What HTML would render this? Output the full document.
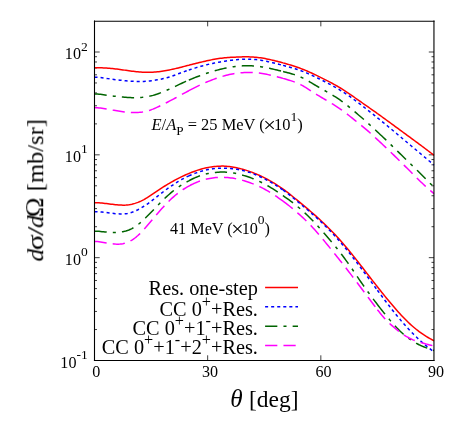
<!DOCTYPE html>
<html><head><meta charset="utf-8"><title>plot</title>
<style>
html,body{margin:0;padding:0;background:#fff;}
body{width:455px;height:422px;overflow:hidden;}
svg{display:block;position:absolute;left:0;top:0;}
text{font-family:"Liberation Serif",serif;fill:#000;}
.i{font-style:italic;}
.c{fill:none;stroke-width:1.5;stroke-linecap:butt;stroke-linejoin:round;}
.t{stroke:#000;stroke-width:0.75;fill:none;}
</style></head><body>
<svg width="455" height="422" viewBox="0 0 455 422">
<rect x="0" y="0" width="455" height="422" fill="#fff"/>
<path class="t" d="M94.50 329.54h2.50M434.00 329.54h-2.50M94.50 311.44h2.50M434.00 311.44h-2.50M94.50 298.59h2.50M434.00 298.59h-2.50M94.50 288.62h2.50M434.00 288.62h-2.50M94.50 280.48h2.50M434.00 280.48h-2.50M94.50 273.60h2.50M434.00 273.60h-2.50M94.50 267.63h2.50M434.00 267.63h-2.50M94.50 262.37h2.50M434.00 262.37h-2.50M94.50 257.67h5.20M434.00 257.67h-5.20M94.50 226.71h2.50M434.00 226.71h-2.50M94.50 208.60h2.50M434.00 208.60h-2.50M94.50 195.75h2.50M434.00 195.75h-2.50M94.50 185.79h2.50M434.00 185.79h-2.50M94.50 177.65h2.50M434.00 177.65h-2.50M94.50 170.76h2.50M434.00 170.76h-2.50M94.50 164.80h2.50M434.00 164.80h-2.50M94.50 159.54h2.50M434.00 159.54h-2.50M94.50 154.83h5.20M434.00 154.83h-5.20M94.50 123.88h2.50M434.00 123.88h-2.50M94.50 105.77h2.50M434.00 105.77h-2.50M94.50 92.92h2.50M434.00 92.92h-2.50M94.50 82.96h2.50M434.00 82.96h-2.50M94.50 74.81h2.50M434.00 74.81h-2.50M94.50 67.93h2.50M434.00 67.93h-2.50M94.50 61.97h2.50M434.00 61.97h-2.50M94.50 56.71h2.50M434.00 56.71h-2.50M94.50 52.00h5.20M434.00 52.00h-5.20M207.67 360.50v-5.20M207.67 21.15v5.20M320.83 360.50v-5.20M320.83 21.15v5.20"/>
<clipPath id="cp"><rect x="94.50" y="21.15" width="340.00" height="339.35"/></clipPath>
<g clip-path="url(#cp)">
<path class="c" stroke="#ff0000" d="M94.5 67.7l1.5-0.03l1.49 0.02l1.5 0.03l1.5 0.05l1.49 0.05l1.5 0.07l1.5 0.09l1.5 0.09l1.49 0.11l1.5 0.12l1.5 0.14l1.49 0.15l1.5 0.16l1.5 0.17l1.49 0.18l1.5 0.2l1.5 0.19l1.49 0.21l1.5 0.21l1.5 0.21l1.5 0.22l1.49 0.21l1.5 0.21l1.5 0.2l1.49 0.2l1.5 0.19l1.5 0.17l1.49 0.17l1.5 0.15l1.5 0.14l1.49 0.12l1.5 0.09l1.5 0.08l1.5 0.05l1.49 0.03l1.5 0l1.5-0.03l1.49-0.05l1.5-0.08l1.5-0.1l1.49-0.12l1.5-0.15l1.5-0.17l1.49-0.19l1.5-0.21l1.5-0.24l1.49-0.25l1.5-0.26l1.5-0.28l1.5-0.29l1.49-0.31l1.5-0.31l1.5-0.33l1.49-0.34l1.5-0.36l1.5-0.36l1.49-0.38l1.5-0.38l1.5-0.39l1.49-0.39l1.5-0.39l1.5-0.39l1.5-0.39M188.8 65.2l1.5-0.38l1.5-0.38l1.5-0.38l1.49-0.38l1.5-0.38l1.5-0.36l1.49-0.37l1.5-0.36l1.5-0.35l1.49-0.35l1.5-0.34l1.5-0.33l1.5-0.33l1.49-0.31l1.5-0.31l1.5-0.29l1.49-0.28l1.5-0.27l1.5-0.25l1.49-0.23l1.5-0.21l1.5-0.19l1.49-0.18l1.5-0.15l1.5-0.14l1.5-0.12l1.49-0.11l1.5-0.1l1.5-0.09l1.49-0.08l1.5-0.07l1.5-0.07l1.49-0.07l1.5-0.06l1.5-0.05l1.49-0.03l1.5-0.03l1.5 0l1.5 0.01l1.49 0.03l1.5 0.05l1.5 0.06l1.49 0.09l1.5 0.11l1.5 0.13l1.49 0.16l1.5 0.18l1.5 0.21l1.49 0.23l1.5 0.25l1.5 0.28l1.5 0.29l1.49 0.31l1.5 0.32l1.5 0.33l1.49 0.35l1.5 0.35l1.5 0.37l1.49 0.37l1.5 0.39l1.5 0.39l1.49 0.4l1.5 0.4M283.1 62.9l1.51 0.4l1.49 0.43l1.5 0.43l1.5 0.45l1.5 0.45l1.49 0.47l1.5 0.48l1.5 0.49l1.49 0.5l1.5 0.52l1.5 0.54l1.49 0.56l1.5 0.58l1.5 0.59l1.49 0.62l1.5 0.64l1.5 0.65l1.5 0.66l1.49 0.68l1.5 0.7l1.5 0.7l1.49 0.71l1.5 0.72l1.5 0.74l1.49 0.74l1.5 0.74l1.5 0.75l1.49 0.76l1.5 0.76l1.5 0.76l1.5 0.77l1.49 0.79l1.5 0.79l1.5 0.82l1.49 0.83l1.5 0.86l1.5 0.87l1.49 0.9l1.5 0.93l1.5 0.94l1.49 0.97l1.5 0.98l1.5 1.01l1.5 1.01l1.49 1.04l1.5 1.04l1.5 1.04l1.49 1.05l1.5 1.05l1.5 1.05l1.49 1.05l1.5 1.05l1.5 1.05l1.49 1.05l1.5 1.05l1.5 1.04l1.5 1.05l1.49 1.05l1.5 1.06l1.5 1.05l1.49 1.06l1.5 1.06l1.5 1.07M377.4 113.5l1.51 1.12l1.48 1.06l1.49 1.08l1.49 1.07l1.49 1.08l1.49 1.08l1.49 1.09l1.49 1.08l1.49 1.09l1.49 1.09l1.49 1.09l1.49 1.09l1.48 1.1l1.49 1.1l1.49 1.1l1.49 1.09l1.49 1.1l1.49 1.1l1.49 1.09l1.49 1.1l1.49 1.09l1.49 1.09l1.48 1.09l1.49 1.09l1.49 1.09l1.49 1.1l1.49 1.09l1.49 1.1l1.49 1.11l1.49 1.11l1.49 1.11l1.49 1.12l1.48 1.12l1.49 1.13l1.49 1.14l1.49 1.14l1.49 1.14l1.49 1.14"/>
<path class="c" stroke="#0000ff" stroke-dasharray="3.03 3.03" d="M94.5 77.2l1.5 0.05l1.49 0.07l1.5 0.12l1.5 0.15l1.49 0.18l1.5 0.2l1.5 0.21l1.5 0.23l1.49 0.22l1.5 0.22l1.5 0.21l1.49 0.2l1.5 0.2l1.5 0.18l1.49 0.18l1.5 0.17l1.5 0.17l1.49 0.16l1.5 0.15l1.5 0.15l1.5 0.14l1.49 0.13l1.5 0.13l1.5 0.11l1.49 0.1l1.5 0.09l1.5 0.07l1.49 0.06l1.5 0.03l1.5 0.02l1.49-0.01l1.5-0.04l1.5-0.06l1.5-0.09l1.49-0.11l1.5-0.14l1.5-0.16l1.49-0.18l1.5-0.2l1.5-0.22l1.49-0.24l1.5-0.26l1.5-0.27l1.49-0.29l1.5-0.32l1.5-0.33l1.49-0.36l1.5-0.38l1.5-0.42l1.5-0.45l1.49-0.48l1.5-0.5l1.5-0.53l1.49-0.55l1.5-0.55l1.5-0.56l1.49-0.56l1.5-0.56l1.5-0.54l1.49-0.54l1.5-0.52l1.5-0.52l1.5-0.51M188.8 70.1l1.5-0.54l1.5-0.49l1.5-0.49l1.49-0.47l1.5-0.46l1.5-0.46l1.49-0.44l1.5-0.43l1.5-0.41l1.49-0.4l1.5-0.39l1.5-0.37l1.5-0.36l1.49-0.34l1.5-0.33l1.5-0.32l1.49-0.31l1.5-0.3l1.5-0.29l1.49-0.27l1.5-0.27l1.5-0.26l1.49-0.25l1.5-0.25l1.5-0.23l1.5-0.21l1.49-0.21l1.5-0.2l1.5-0.19l1.49-0.17l1.5-0.17l1.5-0.15l1.49-0.14l1.5-0.12l1.5-0.1l1.49-0.08l1.5-0.06l1.5-0.03l1.5 0l1.49 0.01l1.5 0.05l1.5 0.06l1.49 0.09l1.5 0.11l1.5 0.14l1.49 0.16l1.5 0.2l1.5 0.22l1.49 0.25l1.5 0.27l1.5 0.3l1.5 0.32l1.49 0.33l1.5 0.35l1.5 0.36l1.49 0.37l1.5 0.37l1.5 0.38l1.49 0.38l1.5 0.38l1.5 0.39l1.49 0.39l1.5 0.39M283.1 65.4l1.51 0.4l1.49 0.39l1.5 0.4l1.5 0.41l1.5 0.41l1.49 0.43l1.5 0.44l1.5 0.45l1.49 0.47l1.5 0.5l1.5 0.52l1.49 0.54l1.5 0.57l1.5 0.59l1.49 0.62l1.5 0.64l1.5 0.66l1.5 0.67l1.49 0.68l1.5 0.69l1.5 0.7l1.49 0.71l1.5 0.71l1.5 0.72l1.49 0.74l1.5 0.74l1.5 0.76l1.49 0.77l1.5 0.77l1.5 0.79l1.5 0.79l1.49 0.81l1.5 0.82l1.5 0.83l1.49 0.85l1.5 0.86l1.5 0.88l1.49 0.91l1.5 0.93l1.5 0.94l1.49 0.98l1.5 0.99l1.5 1.02l1.5 1.03l1.49 1.05l1.5 1.08l1.5 1.08l1.49 1.11l1.5 1.11l1.5 1.13l1.49 1.14l1.5 1.15l1.5 1.15l1.49 1.17l1.5 1.16l1.5 1.18l1.5 1.17l1.49 1.18l1.5 1.19l1.5 1.19l1.49 1.19l1.5 1.2l1.5 1.2M377.4 117.8l1.51 1.16l1.48 1.21l1.49 1.21l1.49 1.21l1.49 1.22l1.49 1.22l1.49 1.23l1.49 1.23l1.49 1.24l1.49 1.24l1.49 1.25l1.49 1.25l1.48 1.25l1.49 1.26l1.49 1.26l1.49 1.26l1.49 1.25l1.49 1.26l1.49 1.25l1.49 1.25l1.49 1.24l1.49 1.25l1.48 1.24l1.49 1.24l1.49 1.24l1.49 1.24l1.49 1.25l1.49 1.24l1.49 1.25l1.49 1.25l1.49 1.26l1.49 1.25l1.48 1.26l1.49 1.25l1.49 1.26l1.49 1.26l1.49 1.25l1.49 1.26"/>
<path class="c" stroke="#006400" stroke-dasharray="12.24 6.12 3.06 6.12" d="M94.5 94.0l1.5 0.02l1.49 0.08l1.5 0.12l1.5 0.15l1.49 0.18l1.5 0.2l1.5 0.21l1.5 0.2l1.49 0.21l1.5 0.2l1.5 0.2l1.49 0.19l1.5 0.18l1.5 0.18l1.49 0.17l1.5 0.16l1.5 0.15l1.49 0.15l1.5 0.14l1.5 0.12l1.5 0.12l1.49 0.1l1.5 0.08l1.5 0.07l1.49 0.05l1.5 0.02l1.5 0.01l1.49-0.03l1.5-0.04l1.5-0.08l1.49-0.11l1.5-0.13l1.5-0.17l1.5-0.2l1.49-0.23l1.5-0.27l1.5-0.3l1.49-0.35l1.5-0.39l1.5-0.43l1.49-0.47l1.5-0.5l1.5-0.54l1.49-0.56l1.5-0.58l1.5-0.6l1.49-0.62l1.5-0.63l1.5-0.64l1.5-0.66l1.49-0.68l1.5-0.69l1.5-0.71l1.49-0.72l1.5-0.72l1.5-0.72l1.49-0.72l1.5-0.7l1.5-0.7l1.49-0.68l1.5-0.67l1.5-0.65l1.5-0.64M188.8 80.1l1.5-0.61l1.5-0.62l1.5-0.61l1.49-0.6l1.5-0.59l1.5-0.57l1.49-0.57l1.5-0.56l1.5-0.54l1.49-0.53l1.5-0.51l1.5-0.5l1.5-0.49l1.49-0.48l1.5-0.46l1.5-0.45l1.49-0.44l1.5-0.43l1.5-0.41l1.49-0.4l1.5-0.39l1.5-0.37l1.49-0.36l1.5-0.34l1.5-0.31l1.5-0.3l1.49-0.28l1.5-0.26l1.5-0.24l1.49-0.22l1.5-0.2l1.5-0.17l1.49-0.16l1.5-0.12l1.5-0.1l1.49-0.07l1.5-0.05l1.5-0.02l1.5 0l1.49 0.02l1.5 0.03l1.5 0.05l1.49 0.07l1.5 0.1l1.5 0.11l1.49 0.15l1.5 0.17l1.5 0.2l1.49 0.22l1.5 0.25l1.5 0.28l1.5 0.29l1.49 0.31l1.5 0.32l1.5 0.34l1.49 0.34l1.5 0.35l1.5 0.36l1.49 0.36l1.5 0.37l1.5 0.36l1.49 0.37l1.5 0.37M283.1 71.6l1.51 0.33l1.49 0.38l1.5 0.39l1.5 0.39l1.5 0.41l1.49 0.43l1.5 0.45l1.5 0.48l1.49 0.52l1.5 0.56l1.5 0.61l1.49 0.65l1.5 0.7l1.5 0.76l1.49 0.8l1.5 0.84l1.5 0.86l1.5 0.89l1.49 0.9l1.5 0.89l1.5 0.89l1.49 0.89l1.5 0.87l1.5 0.86l1.49 0.86l1.5 0.85l1.5 0.85l1.49 0.85l1.5 0.85l1.5 0.86l1.5 0.87l1.49 0.88l1.5 0.9l1.5 0.91l1.49 0.94l1.5 0.97l1.5 1l1.49 1.03l1.5 1.07l1.5 1.11l1.49 1.14l1.5 1.17l1.5 1.21l1.5 1.22l1.49 1.25l1.5 1.25l1.5 1.26l1.49 1.27l1.5 1.27l1.5 1.27l1.49 1.27l1.5 1.28l1.5 1.29l1.49 1.3l1.5 1.31l1.5 1.33l1.5 1.34l1.49 1.36l1.5 1.37l1.5 1.38l1.49 1.39l1.5 1.39l1.5 1.4M377.4 131.9l1.51 1.37l1.48 1.4l1.49 1.41l1.49 1.41l1.49 1.42l1.49 1.42l1.49 1.44l1.49 1.43l1.49 1.44l1.49 1.45l1.49 1.45l1.49 1.45l1.48 1.45l1.49 1.46l1.49 1.46l1.49 1.45l1.49 1.46l1.49 1.45l1.49 1.45l1.49 1.45l1.49 1.45l1.49 1.45l1.48 1.45l1.49 1.45l1.49 1.46l1.49 1.46l1.49 1.46l1.49 1.47l1.49 1.48l1.49 1.47l1.49 1.49l1.49 1.49l1.48 1.49l1.49 1.5l1.49 1.5l1.49 1.5l1.49 1.5l1.49 1.51"/>
<path class="c" stroke="#ff00ff" stroke-dasharray="12.24 6.12" d="M94.5 107.6l1.5 0.05l1.49 0.09l1.5 0.16l1.5 0.19l1.49 0.23l1.5 0.25l1.5 0.26l1.5 0.26l1.49 0.26l1.5 0.25l1.5 0.25l1.49 0.25l1.5 0.24l1.5 0.24l1.49 0.24l1.5 0.24l1.5 0.22l1.49 0.22l1.5 0.21l1.5 0.19l1.5 0.18l1.49 0.15l1.5 0.13l1.5 0.11l1.49 0.07l1.5 0.05l1.5 0l1.49-0.03l1.5-0.08l1.5-0.12l1.49-0.17l1.5-0.21l1.5-0.26l1.5-0.31l1.49-0.36l1.5-0.41l1.5-0.46l1.49-0.51l1.5-0.56l1.5-0.6l1.49-0.65l1.5-0.69l1.5-0.71l1.49-0.73l1.5-0.75l1.5-0.75l1.49-0.75l1.5-0.76l1.5-0.76l1.5-0.77l1.49-0.78l1.5-0.79l1.5-0.81l1.49-0.81l1.5-0.82l1.5-0.82l1.49-0.82l1.5-0.82l1.5-0.81l1.49-0.81l1.5-0.8l1.5-0.79l1.5-0.79M188.8 90.7l1.5-0.76l1.5-0.78l1.5-0.77l1.49-0.76l1.5-0.75l1.5-0.73l1.49-0.73l1.5-0.71l1.5-0.69l1.49-0.67l1.5-0.66l1.5-0.64l1.5-0.62l1.49-0.6l1.5-0.59l1.5-0.57l1.49-0.55l1.5-0.54l1.5-0.52l1.49-0.51l1.5-0.49l1.5-0.47l1.49-0.45l1.5-0.42l1.5-0.4l1.5-0.38l1.49-0.35l1.5-0.32l1.5-0.29l1.49-0.27l1.5-0.25l1.5-0.22l1.49-0.19l1.5-0.16l1.5-0.14l1.49-0.12l1.5-0.08l1.5-0.06l1.5-0.04l1.49-0.02l1.5 0l1.5 0.02l1.49 0.05l1.5 0.07l1.5 0.11l1.49 0.14l1.5 0.17l1.5 0.2l1.49 0.24l1.5 0.26l1.5 0.29l1.5 0.31l1.49 0.32l1.5 0.33l1.5 0.35l1.49 0.36l1.5 0.36l1.5 0.38l1.49 0.38l1.5 0.4l1.5 0.4l1.49 0.41l1.5 0.41M283.1 78.4l1.51 0.42l1.49 0.43l1.5 0.45l1.5 0.46l1.5 0.47l1.49 0.5l1.5 0.53l1.5 0.56l1.49 0.59l1.5 0.64l1.5 0.69l1.49 0.74l1.5 0.79l1.5 0.85l1.49 0.89l1.5 0.93l1.5 0.95l1.5 0.98l1.49 0.97l1.5 0.97l1.5 0.96l1.49 0.94l1.5 0.93l1.5 0.91l1.49 0.9l1.5 0.89l1.5 0.88l1.49 0.88l1.5 0.88l1.5 0.89l1.5 0.89l1.49 0.9l1.5 0.91l1.5 0.93l1.49 0.94l1.5 0.97l1.5 1l1.49 1.02l1.5 1.05l1.5 1.08l1.49 1.11l1.5 1.13l1.5 1.16l1.5 1.17l1.49 1.19l1.5 1.19l1.5 1.2l1.49 1.2l1.5 1.2l1.5 1.19l1.49 1.21l1.5 1.21l1.5 1.22l1.49 1.24l1.5 1.26l1.5 1.28l1.5 1.3l1.49 1.33l1.5 1.34l1.5 1.35l1.49 1.37l1.5 1.38l1.5 1.39M377.4 139.6l1.51 1.37l1.48 1.4l1.49 1.4l1.49 1.41l1.49 1.41l1.49 1.42l1.49 1.42l1.49 1.43l1.49 1.42l1.49 1.44l1.49 1.44l1.49 1.44l1.48 1.45l1.49 1.45l1.49 1.46l1.49 1.46l1.49 1.47l1.49 1.48l1.49 1.48l1.49 1.49l1.49 1.49l1.49 1.5l1.48 1.5l1.49 1.5l1.49 1.5l1.49 1.48l1.49 1.48l1.49 1.45l1.49 1.43l1.49 1.41l1.49 1.39l1.49 1.36l1.48 1.34l1.49 1.32l1.49 1.31l1.49 1.31l1.49 1.29l1.49 1.3"/>
<path class="c" stroke="#ff0000" d="M94.5 202.7l1.5 0.03l1.49 0.05l1.5 0.08l1.5 0.1l1.49 0.13l1.5 0.15l1.5 0.17l1.5 0.18l1.49 0.19l1.5 0.2l1.5 0.19l1.49 0.19l1.5 0.18l1.5 0.16l1.49 0.15l1.5 0.12l1.5 0.09l1.49 0.06l1.5 0.03l1.5-0.02l1.5-0.07l1.49-0.12l1.5-0.19l1.5-0.24l1.49-0.31l1.5-0.37l1.5-0.44l1.49-0.49l1.5-0.56l1.5-0.61l1.49-0.67l1.5-0.73l1.5-0.78l1.5-0.83l1.49-0.87l1.5-0.92l1.5-0.96l1.49-0.98l1.5-1.01l1.5-1.03l1.49-1.02l1.5-1.03l1.5-1.01l1.49-1l1.5-0.99l1.5-0.96l1.49-0.94l1.5-0.93l1.5-0.9l1.5-0.89l1.49-0.87l1.5-0.84l1.5-0.84l1.49-0.81l1.5-0.79l1.5-0.78l1.49-0.76l1.5-0.73l1.5-0.72l1.49-0.69l1.5-0.68l1.5-0.65l1.5-0.63M188.8 173.5l1.5-0.61l1.5-0.59l1.5-0.57l1.49-0.55l1.5-0.53l1.5-0.5l1.49-0.48l1.5-0.45l1.5-0.43l1.49-0.4l1.5-0.36l1.5-0.33l1.5-0.3l1.49-0.27l1.5-0.24l1.5-0.2l1.49-0.17l1.5-0.14l1.5-0.12l1.49-0.08l1.5-0.05l1.5-0.02l1.49 0.01l1.5 0.05l1.5 0.09l1.5 0.12l1.49 0.16l1.5 0.2l1.5 0.22l1.49 0.26l1.5 0.28l1.5 0.31l1.49 0.34l1.5 0.35l1.5 0.38l1.49 0.4l1.5 0.42l1.5 0.44l1.5 0.47l1.49 0.49l1.5 0.52l1.5 0.55l1.49 0.57l1.5 0.59l1.5 0.62l1.49 0.65l1.5 0.67l1.5 0.69l1.49 0.71l1.5 0.74l1.5 0.77l1.5 0.78l1.49 0.81l1.5 0.83l1.5 0.85l1.49 0.87l1.5 0.9l1.5 0.92l1.49 0.94l1.5 0.97l1.5 1l1.49 1.03l1.5 1.05M283.1 189.1l1.51 1.12l1.49 1.11l1.5 1.14l1.5 1.16l1.5 1.18l1.49 1.2l1.5 1.22l1.5 1.23l1.49 1.24l1.5 1.24l1.5 1.24l1.49 1.25l1.5 1.24l1.5 1.24l1.49 1.25l1.5 1.26l1.5 1.26l1.5 1.28l1.49 1.28l1.5 1.3l1.5 1.31l1.49 1.33l1.5 1.36l1.5 1.37l1.49 1.38l1.5 1.41l1.5 1.42l1.49 1.43l1.5 1.44l1.5 1.46l1.5 1.47l1.49 1.5l1.5 1.52l1.5 1.54l1.49 1.58l1.5 1.62l1.5 1.64l1.49 1.68l1.5 1.71l1.5 1.73l1.49 1.76l1.5 1.78l1.5 1.8l1.5 1.82l1.49 1.83l1.5 1.85l1.5 1.86l1.49 1.87l1.5 1.89l1.5 1.9l1.49 1.91l1.5 1.92l1.5 1.94l1.49 1.94l1.5 1.94l1.5 1.94l1.5 1.94l1.49 1.93l1.5 1.92l1.5 1.92l1.49 1.91l1.5 1.9l1.5 1.9M377.4 286.8l1.51 1.88l1.48 1.87l1.49 1.87l1.49 1.85l1.49 1.84l1.49 1.83l1.49 1.82l1.49 1.79l1.49 1.78l1.49 1.76l1.49 1.74l1.49 1.72l1.48 1.69l1.49 1.67l1.49 1.64l1.49 1.61l1.49 1.59l1.49 1.55l1.49 1.51l1.49 1.48l1.49 1.43l1.49 1.4l1.48 1.35l1.49 1.31l1.49 1.27l1.49 1.23l1.49 1.18l1.49 1.13l1.49 1.09l1.49 1.05l1.49 1.01l1.49 0.96l1.48 0.92l1.49 0.89l1.49 0.85l1.49 0.83l1.49 0.81l1.49 0.8"/>
<path class="c" stroke="#0000ff" stroke-dasharray="3.03 3.03" d="M94.5 211.7l1.5 0.03l1.49 0.05l1.5 0.08l1.5 0.1l1.49 0.13l1.5 0.15l1.5 0.17l1.5 0.18l1.49 0.19l1.5 0.19l1.5 0.19l1.49 0.18l1.5 0.16l1.5 0.15l1.49 0.12l1.5 0.09l1.5 0.06l1.49 0.01l1.5-0.04l1.5-0.09l1.5-0.15l1.49-0.23l1.5-0.3l1.5-0.38l1.49-0.45l1.5-0.54l1.5-0.61l1.49-0.68l1.5-0.74l1.5-0.8l1.49-0.84l1.5-0.89l1.5-0.93l1.5-0.96l1.49-1l1.5-1.04l1.5-1.07l1.49-1.11l1.5-1.15l1.5-1.16l1.49-1.18l1.5-1.19l1.5-1.19l1.49-1.17l1.5-1.16l1.5-1.14l1.49-1.13l1.5-1.1l1.5-1.09l1.5-1.06l1.49-1.04l1.5-1.02l1.5-1l1.49-0.97l1.5-0.95l1.5-0.92l1.49-0.89l1.5-0.86l1.5-0.83l1.49-0.8l1.5-0.77l1.5-0.73l1.5-0.69M188.8 175.9l1.5-0.68l1.5-0.63l1.5-0.61l1.49-0.58l1.5-0.55l1.5-0.52l1.49-0.5l1.5-0.47l1.5-0.44l1.49-0.4l1.5-0.37l1.5-0.34l1.5-0.3l1.49-0.27l1.5-0.24l1.5-0.2l1.49-0.18l1.5-0.15l1.5-0.12l1.49-0.09l1.5-0.07l1.5-0.04l1.49-0.01l1.5 0.02l1.5 0.05l1.5 0.07l1.49 0.11l1.5 0.13l1.5 0.16l1.49 0.18l1.5 0.22l1.5 0.23l1.49 0.26l1.5 0.29l1.5 0.31l1.49 0.33l1.5 0.37l1.5 0.4l1.5 0.43l1.49 0.46l1.5 0.5l1.5 0.53l1.49 0.56l1.5 0.59l1.5 0.61l1.49 0.65l1.5 0.66l1.5 0.7l1.49 0.71l1.5 0.74l1.5 0.77l1.5 0.78l1.49 0.81l1.5 0.83l1.5 0.85l1.49 0.87l1.5 0.9l1.5 0.92l1.49 0.94l1.5 0.97l1.5 1l1.49 1.03l1.5 1.05M283.1 190.1l1.51 1.12l1.49 1.11l1.5 1.13l1.5 1.17l1.5 1.18l1.49 1.2l1.5 1.22l1.5 1.24l1.49 1.24l1.5 1.25l1.5 1.25l1.49 1.25l1.5 1.25l1.5 1.26l1.49 1.25l1.5 1.26l1.5 1.26l1.5 1.28l1.49 1.29l1.5 1.3l1.5 1.31l1.49 1.34l1.5 1.36l1.5 1.38l1.49 1.4l1.5 1.43l1.5 1.45l1.49 1.47l1.5 1.48l1.5 1.5l1.5 1.52l1.49 1.55l1.5 1.56l1.5 1.59l1.49 1.63l1.5 1.66l1.5 1.69l1.49 1.72l1.5 1.75l1.5 1.78l1.49 1.81l1.5 1.82l1.5 1.85l1.5 1.86l1.49 1.88l1.5 1.89l1.5 1.91l1.49 1.93l1.5 1.94l1.5 1.95l1.49 1.97l1.5 1.99l1.5 2l1.49 2.01l1.5 2.02l1.5 2.03l1.5 2.02l1.49 2.03l1.5 2.03l1.5 2.03l1.49 2.02l1.5 2.02l1.5 2.02M377.4 290.2l1.51 2.02l1.48 2l1.49 2l1.49 1.99l1.49 1.99l1.49 1.98l1.49 1.96l1.49 1.94l1.49 1.93l1.49 1.91l1.49 1.89l1.49 1.86l1.48 1.84l1.49 1.81l1.49 1.78l1.49 1.76l1.49 1.72l1.49 1.7l1.49 1.66l1.49 1.64l1.49 1.6l1.49 1.59l1.48 1.55l1.49 1.52l1.49 1.49l1.49 1.46l1.49 1.43l1.49 1.39l1.49 1.36l1.49 1.33l1.49 1.31l1.49 1.27l1.48 1.24l1.49 1.22l1.49 1.19l1.49 1.17l1.49 1.15l1.49 1.15"/>
<path class="c" stroke="#006400" stroke-dasharray="12.24 6.12 3.06 6.12" d="M94.5 231.2l1.5-0.02l1.49 0.07l1.5 0.1l1.5 0.13l1.49 0.15l1.5 0.15l1.5 0.16l1.5 0.15l1.49 0.14l1.5 0.11l1.5 0.09l1.49 0.05l1.5 0.01l1.5-0.02l1.49-0.07l1.5-0.12l1.5-0.16l1.49-0.21l1.5-0.26l1.5-0.32l1.5-0.39l1.49-0.46l1.5-0.54l1.5-0.63l1.49-0.72l1.5-0.83l1.5-0.93l1.49-1.02l1.5-1.12l1.5-1.2l1.49-1.27l1.5-1.35l1.5-1.4l1.5-1.45l1.49-1.48l1.5-1.51l1.5-1.53l1.49-1.54l1.5-1.55l1.5-1.54l1.49-1.55l1.5-1.54l1.5-1.53l1.49-1.51l1.5-1.5l1.5-1.47l1.49-1.45l1.5-1.41l1.5-1.38l1.5-1.34l1.49-1.3l1.5-1.24l1.5-1.2l1.49-1.15l1.5-1.09l1.5-1.05l1.49-1.01l1.5-0.97l1.5-0.93l1.49-0.91l1.5-0.88l1.5-0.85l1.5-0.82M188.8 180.8l1.5-0.81l1.5-0.75l1.5-0.73l1.49-0.68l1.5-0.65l1.5-0.6l1.49-0.57l1.5-0.52l1.5-0.49l1.49-0.44l1.5-0.4l1.5-0.36l1.5-0.32l1.49-0.29l1.5-0.25l1.5-0.22l1.49-0.19l1.5-0.15l1.5-0.13l1.49-0.09l1.5-0.07l1.5-0.03l1.49 0.01l1.5 0.04l1.5 0.07l1.5 0.11l1.49 0.15l1.5 0.17l1.5 0.21l1.49 0.25l1.5 0.27l1.5 0.31l1.49 0.34l1.5 0.36l1.5 0.4l1.49 0.41l1.5 0.44l1.5 0.46l1.5 0.48l1.49 0.5l1.5 0.53l1.5 0.56l1.49 0.59l1.5 0.61l1.5 0.65l1.49 0.66l1.5 0.69l1.5 0.71l1.49 0.74l1.5 0.77l1.5 0.79l1.5 0.81l1.49 0.85l1.5 0.88l1.5 0.91l1.49 0.93l1.5 0.96l1.5 0.98l1.49 1l1.5 1l1.5 1.02l1.49 1.02l1.5 1.03M283.1 195.7l1.51 1.07l1.49 1.05l1.5 1.07l1.5 1.08l1.5 1.1l1.49 1.13l1.5 1.15l1.5 1.18l1.49 1.2l1.5 1.24l1.5 1.26l1.49 1.3l1.5 1.32l1.5 1.36l1.49 1.38l1.5 1.42l1.5 1.44l1.5 1.47l1.49 1.51l1.5 1.55l1.5 1.58l1.49 1.61l1.5 1.65l1.5 1.67l1.49 1.69l1.5 1.7l1.5 1.71l1.49 1.71l1.5 1.72l1.5 1.72l1.5 1.73l1.49 1.74l1.5 1.77l1.5 1.8l1.49 1.83l1.5 1.86l1.5 1.91l1.49 1.93l1.5 1.97l1.5 2l1.49 2.02l1.5 2.04l1.5 2.08l1.5 2.1l1.49 2.13l1.5 2.15l1.5 2.19l1.49 2.2l1.5 2.21l1.5 2.21l1.49 2.19l1.5 2.19l1.5 2.15l1.49 2.14l1.5 2.11l1.5 2.09l1.5 2.06l1.49 2.04l1.5 2.03l1.5 2l1.49 1.99l1.5 1.97l1.5 1.96M377.4 304.5l1.51 1.95l1.48 1.9l1.49 1.89l1.49 1.87l1.49 1.84l1.49 1.83l1.49 1.81l1.49 1.79l1.49 1.76l1.49 1.72l1.49 1.68l1.49 1.63l1.48 1.59l1.49 1.53l1.49 1.48l1.49 1.41l1.49 1.37l1.49 1.3l1.49 1.24l1.49 1.18l1.49 1.12l1.49 1.06l1.48 1.01l1.49 0.95l1.49 0.91l1.49 0.85l1.49 0.8l1.49 0.76l1.49 0.71l1.49 0.66l1.49 0.63l1.49 0.6l1.48 0.57l1.49 0.54l1.49 0.53l1.49 0.52l1.49 0.5l1.49 0.51"/>
<path class="c" stroke="#ff00ff" stroke-dasharray="12.24 6.12" d="M94.5 241.5l1.5 0l1.49 0.09l1.5 0.15l1.5 0.2l1.49 0.23l1.5 0.25l1.5 0.26l1.5 0.26l1.49 0.25l1.5 0.23l1.5 0.21l1.49 0.19l1.5 0.15l1.5 0.1l1.49 0.06l1.5 0l1.5-0.07l1.49-0.15l1.5-0.24l1.5-0.33l1.5-0.42l1.49-0.54l1.5-0.65l1.5-0.76l1.49-0.88l1.5-0.99l1.5-1.1l1.49-1.2l1.5-1.3l1.5-1.39l1.49-1.48l1.5-1.55l1.5-1.61l1.5-1.67l1.49-1.71l1.5-1.74l1.5-1.77l1.49-1.79l1.5-1.79l1.5-1.78l1.49-1.77l1.5-1.76l1.5-1.72l1.49-1.7l1.5-1.66l1.5-1.63l1.49-1.59l1.5-1.57l1.5-1.54l1.5-1.5l1.49-1.45l1.5-1.41l1.5-1.35l1.49-1.29l1.5-1.23l1.5-1.16l1.49-1.11l1.5-1.06l1.5-1l1.49-0.97l1.5-0.92l1.5-0.89l1.5-0.84M188.8 186.1l1.5-0.81l1.5-0.76l1.5-0.73l1.49-0.68l1.5-0.64l1.5-0.61l1.49-0.56l1.5-0.53l1.5-0.48l1.49-0.45l1.5-0.41l1.5-0.37l1.5-0.33l1.49-0.3l1.5-0.26l1.5-0.22l1.49-0.19l1.5-0.16l1.5-0.12l1.49-0.09l1.5-0.05l1.5-0.02l1.49 0.01l1.5 0.05l1.5 0.08l1.5 0.12l1.49 0.14l1.5 0.18l1.5 0.2l1.49 0.24l1.5 0.27l1.5 0.29l1.49 0.33l1.5 0.36l1.5 0.38l1.49 0.41l1.5 0.44l1.5 0.46l1.5 0.47l1.49 0.5l1.5 0.52l1.5 0.55l1.49 0.56l1.5 0.59l1.5 0.62l1.49 0.65l1.5 0.68l1.5 0.71l1.49 0.75l1.5 0.78l1.5 0.82l1.5 0.85l1.49 0.87l1.5 0.9l1.5 0.93l1.49 0.96l1.5 0.97l1.5 0.99l1.49 1.02l1.5 1.03l1.5 1.05l1.49 1.06l1.5 1.09M283.1 201.2l1.51 1.11l1.49 1.13l1.5 1.15l1.5 1.17l1.5 1.21l1.49 1.23l1.5 1.25l1.5 1.28l1.49 1.3l1.5 1.32l1.5 1.33l1.49 1.36l1.5 1.38l1.5 1.4l1.49 1.43l1.5 1.46l1.5 1.49l1.5 1.53l1.49 1.57l1.5 1.61l1.5 1.64l1.49 1.68l1.5 1.72l1.5 1.74l1.49 1.77l1.5 1.8l1.5 1.8l1.49 1.82l1.5 1.83l1.5 1.84l1.5 1.85l1.49 1.85l1.5 1.85l1.5 1.86l1.49 1.87l1.5 1.86l1.5 1.87l1.49 1.88l1.5 1.89l1.5 1.9l1.49 1.91l1.5 1.93l1.5 1.94l1.5 1.95l1.49 1.96l1.5 1.97l1.5 1.97l1.49 1.98l1.5 1.98l1.5 1.98l1.49 1.98l1.5 1.98l1.5 1.99l1.49 2l1.5 2l1.5 2l1.5 2.01l1.49 2.01l1.5 2.01l1.5 1.99l1.49 1.99l1.5 1.97l1.5 1.94M377.4 309.7l1.51 1.87l1.48 1.85l1.49 1.81l1.49 1.73l1.49 1.67l1.49 1.6l1.49 1.52l1.49 1.45l1.49 1.39l1.49 1.33l1.49 1.29l1.49 1.24l1.48 1.2l1.49 1.16l1.49 1.13l1.49 1.09l1.49 1.06l1.49 1l1.49 0.95l1.49 0.9l1.49 0.83l1.49 0.76l1.48 0.7l1.49 0.64l1.49 0.58l1.49 0.54l1.49 0.51l1.49 0.48l1.49 0.46l1.49 0.44l1.49 0.43l1.49 0.41l1.48 0.41l1.49 0.39l1.49 0.38l1.49 0.37l1.49 0.37l1.49 0.36"/>
</g>
<path class="c" stroke="#ff0000" d="M265.10 287.40H298.00"/>
<path class="c" stroke="#0000ff" stroke-dasharray="3.03 3.03" d="M265.10 306.80H298.00"/>
<path class="c" stroke="#006400" stroke-dasharray="12.24 6.12 3.06 6.12" d="M265.10 326.20H298.00"/>
<path class="c" stroke="#ff00ff" stroke-dasharray="12.24 6.12" d="M265.10 345.40H298.00"/>
<path d="M94.5 20.6V361.05" stroke="#000" stroke-width="1.1" fill="none"/>
<path d="M93.95 360.5H434.5" stroke="#000" stroke-width="1.1" fill="none"/>
<path d="M93.95 21.15H434.5" stroke="#000" stroke-width="1.05" fill="none"/>
<path d="M433.95 20.6V361.05" stroke="#000" stroke-width="1.1" fill="none"/>
<g opacity="0.999">
<text id="yl2" x="87.7" y="59.10" text-anchor="end" font-size="16.10">10<tspan font-size="13.50" dy="-8.5">2</tspan></text>
<text id="yl1" x="87.7" y="161.93" text-anchor="end" font-size="16.10">10<tspan font-size="13.50" dy="-8.5">1</tspan></text>
<text id="yl0" x="87.7" y="264.77" text-anchor="end" font-size="16.10">10<tspan font-size="13.50" dy="-8.5">0</tspan></text>
<text id="ylm1" x="87.7" y="367.60" text-anchor="end" font-size="16.10">10<tspan font-size="13.50" dy="-8.5">-1</tspan></text>
<text id="xl0" x="96.20" y="377.4" text-anchor="middle" font-size="16.10">0</text>
<text id="xl30" x="210.07" y="377.4" text-anchor="middle" font-size="16.10">30</text>
<text id="xl60" x="323.43" y="377.4" text-anchor="middle" font-size="16.10">60</text>
<text id="xl90" x="436.10" y="377.4" text-anchor="middle" font-size="16.10">90</text>
<text id="an1" transform="translate(151.5 129.5) scale(1.017 1)" font-size="16.20"><tspan class="i">E</tspan>/<tspan class="i">A</tspan><tspan font-size="12.96" dy="5.2">P</tspan><tspan dy="-5.2"> = 25 MeV (</tspan><tspan font-size="22" dx="-1.5" dy="2.9">×</tspan><tspan dx="-1.9" dy="-2.9">10</tspan><tspan font-size="13.50" dy="-8.6">1</tspan><tspan dy="8.6">)</tspan></text>
<text id="an0" x="170.0" y="233.5" font-size="16.20">41 MeV (<tspan font-size="22" dx="-1.5" dy="2.9">×</tspan><tspan dx="-1.9" dy="-2.9">10</tspan><tspan font-size="13.50" dy="-9.4">0</tspan><tspan dy="9.4">)</tspan></text>
<text id="lg0" x="257.90" y="295.30" text-anchor="end" font-size="20.30">Res. one-step</text>
<text id="lg1" x="257.90" y="315.90" text-anchor="end" font-size="20.30">CC 0<tspan font-size="16.24" dy="-9.0">+</tspan><tspan dy="9.0">+Res.</tspan></text>
<text id="lg2" x="257.90" y="334.80" text-anchor="end" font-size="20.30">CC 0<tspan font-size="16.24" dy="-9.0">+</tspan><tspan dy="9.0">+1</tspan><tspan font-size="16.24" dy="-9.0">-</tspan><tspan dy="9.0">+Res.</tspan></text>
<text id="lg3" x="257.90" y="353.90" text-anchor="end" font-size="20.30">CC 0<tspan font-size="16.24" dy="-9.0">+</tspan><tspan dy="9.0">+1</tspan><tspan font-size="16.24" dy="-9.0">-</tspan><tspan dy="9.0">+2</tspan><tspan font-size="16.24" dy="-9.0">+</tspan><tspan dy="9.0">+Res.</tspan></text>
<text id="xth" class="i" x="230.2" y="406.7" font-size="25.2">θ</text>
<text id="xlab" transform="translate(248.9 406.7) scale(1.022 1)" font-size="23.00">[deg]</text>
<g id="ylab" transform="translate(43.2 261.5) rotate(-90)">
<text class="i" transform="translate(0.00 0) scale(1.080 1)" font-size="23.40">d</text>
<text transform="translate(11.30 0) scale(1.280 1)" font-size="23.00">σ</text>
<text transform="translate(25.40 0) scale(1.500 1)" font-size="23.00">/</text>
<text class="i" transform="translate(33.50 0) scale(1.080 1)" font-size="23.40">d</text>
<text transform="translate(44.30 0) scale(1.085 1)" font-size="24.50">Ω</text>
<text transform="translate(70.30 0) scale(1.066 1)" font-size="23.00">[mb/sr]</text>
</g>
</g>
</svg>
</body></html>
